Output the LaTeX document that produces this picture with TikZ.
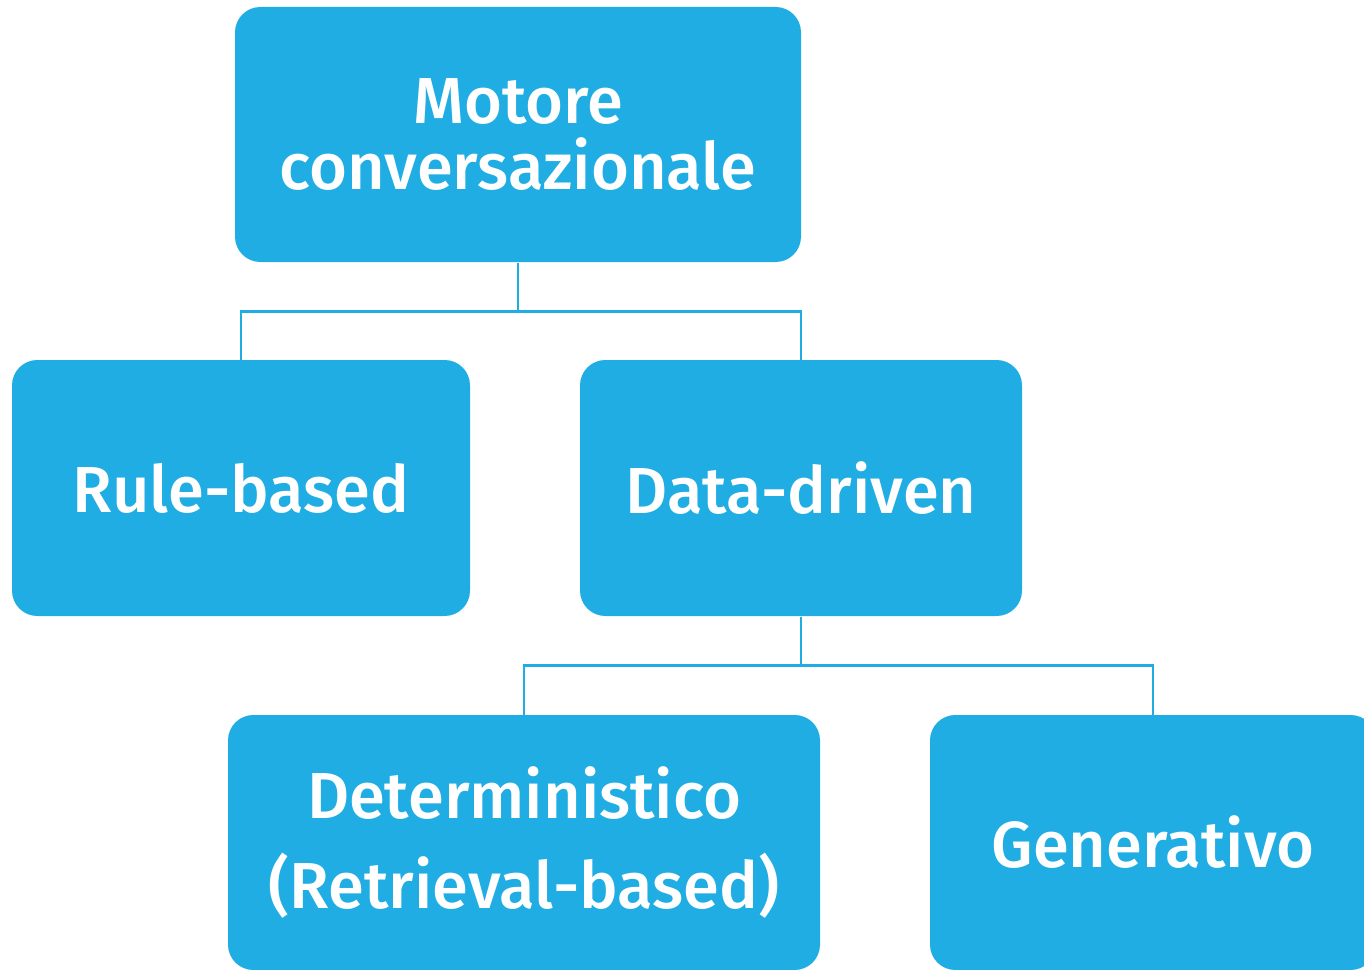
\documentclass[tikz,border=0pt]{standalone}
\usepackage{fontspec}
\setmainfont{Fira Sans}[BoldFont={Fira Sans Medium}]
\usetikzlibrary{positioning}

\definecolor{boxblue}{RGB}{31,173,227}
\tikzset{every picture/.style={line width=0.75pt}}
\tikzset{
  catbox/.style={draw=none, fill=boxblue, rounded corners=19pt, text=white,
    align=center, inner sep=0pt, font=\fontsize{48.8}{51}\selectfont\bfseries},
  treeline/.style={draw=boxblue, line width=1.75pt}
}

\begin{document}
\begin{tikzpicture}[x=0.75pt,y=0.75pt,yscale=-1,xscale=1]
\useasboundingbox (0,0) rectangle (1364,970);
\clip (0,0) rectangle (1364,970);

%Shape: Rounded Rect [id:motore]
\node [catbox, minimum width=424.5pt, minimum height=191.25pt] (motore) at (518,134.5) {Motore\\[-1pt]conversazionale};
%Shape: Rounded Rect [id:rule]
\node [catbox, minimum width=343.5pt, minimum height=192pt] (rule) at (241,488) {Rule-based};
%Shape: Rounded Rect [id:data]
\node [catbox, minimum width=331.5pt, minimum height=192pt] (data) at (801,488) {Data-driven};
%Shape: Rounded Rect [id:determ]
\node [catbox, minimum width=444pt, minimum height=191.25pt] (determ) at (524,842.5) {Deterministico\\[17pt](Retrieval-based)};
%Shape: Rounded Rect [id:gener]
\node [catbox, minimum width=334.5pt, minimum height=191.25pt] (gener) at (1153,842.5) {Generativo};

%Connectors
\draw [treeline] (motore.south) -- ++(0,49) -| (rule.north);
\draw [treeline] (motore.south) -- ++(0,49) -| (data.north);
\draw [treeline] (data.south) -- ++(0,49) -| (determ.north);
\draw [treeline] (data.south) -- ++(0,49) -| (gener.north);

\end{tikzpicture}
\end{document}
